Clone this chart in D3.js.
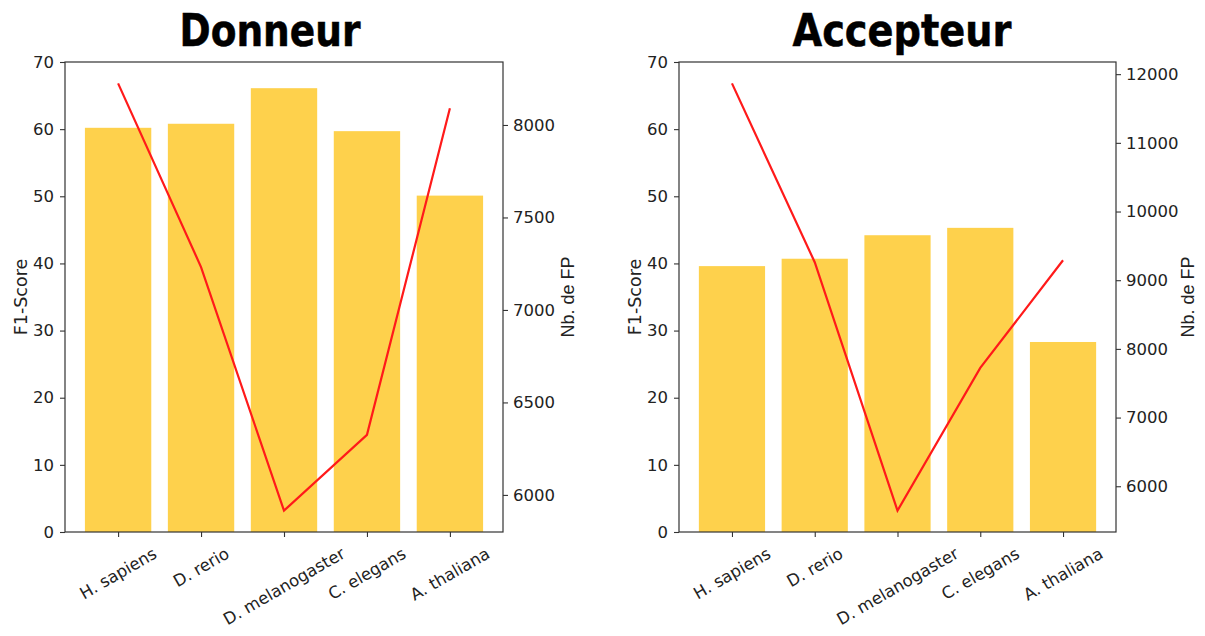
<!DOCTYPE html>
<html>
<head>
<meta charset="utf-8">
<script src="https://cdn.jsdelivr.net/npm/d3@7/dist/d3.min.js"></script>
<style>
  html, body { margin: 0; padding: 0; background: #fff; }
  svg { display: block; }
</style>
</head>
<body>
<svg id="chart" width="1205" height="636"></svg>
<script>
// ---- DATA ----
const species = ["H. sapiens", "D. rerio", "D. melanogaster", "C. elegans", "A. thaliana"];
const titles = ["Donneur", "Accepteur"];
const donneurF1 = [60.2, 60.8, 66.1, 59.7, 50.1];
const donneurFP = [8225, 7232, 5915, 6325, 8090];
const accepteurF1 = [39.6, 40.7, 44.2, 45.3, 28.3];
const accepteurFP = [11866, 9262, 5645, 7723, 9290];
const f1Ticks = [0, 10, 20, 30, 40, 50, 60, 70];
const donneurFPTicks = [6000, 6500, 7000, 7500, 8000];
const accepteurFPTicks = [6000, 7000, 8000, 9000, 10000, 11000, 12000];
const leftLabel = "F1-Score";
const rightLabel = "Nb. de FP";

const svg = d3.select("#chart");
svg.append("rect").attr("width", 1205).attr("height", 636).attr("fill", "#fff");

const panels = [
  { title: titles[0], f1: donneurF1, fp: donneurFP, fpTicks: donneurFPTicks,
    x0: 65, x1: 503, titleX: 270, titleW: 181, leftLabX: 21, rightLabX: 568 },
  { title: titles[1], f1: accepteurF1, fp: accepteurFP, fpTicks: accepteurFPTicks,
    x0: 679, x1: 1116, titleX: 902, titleW: 219, leftLabX: 635, rightLabX: 1188 }
];
const yTop = 62, yBot = 532;
const axisColor = "#333";
const textColor = "#222";
const tickFont = "DejaVu Sans, sans-serif";

panels.forEach(p => {
  const g = svg.append("g");
  const n = species.length;
  // matplotlib-like x limits: bars width 0.8, 5% margins
  const lo = -0.4, hi = n - 1 + 0.4, m = (hi - lo) * 0.05;
  const x = d3.scaleLinear().domain([lo - m, hi + m]).range([p.x0, p.x1]);
  const yL = d3.scaleLinear().domain([0, 70]).range([yBot, yTop]);
  const fmin = d3.min(p.fp), fmax = d3.max(p.fp), r = fmax - fmin;
  const yR = d3.scaleLinear().domain([fmin - 0.05 * r, fmax + 0.05 * r]).range([yBot, yTop]);

  // bars
  g.selectAll("rect.bar").data(p.f1).join("rect")
    .attr("class", "bar")
    .attr("x", (d, i) => x(i - 0.4))
    .attr("width", (d, i) => x(i + 0.4) - x(i - 0.4))
    .attr("y", d => yL(d))
    .attr("height", d => yBot - yL(d))
    .attr("fill", "#FED14C");

  // line
  const line = d3.line().x((d, i) => x(i)).y(d => yR(d));
  g.append("path").datum(p.fp)
    .attr("d", line)
    .attr("fill", "none")
    .attr("stroke", "#FF1A1A")
    .attr("stroke-width", 2.2)
    .attr("stroke-linejoin", "miter");

  // frame (spines)
  g.append("rect")
    .attr("x", p.x0).attr("y", yTop)
    .attr("width", p.x1 - p.x0).attr("height", yBot - yTop)
    .attr("fill", "none").attr("stroke", axisColor).attr("stroke-width", 1.2);

  // left axis
  const axL = d3.axisLeft(yL).tickValues(f1Ticks).tickSize(5).tickPadding(6).tickFormat(d3.format("d"));
  const gL = g.append("g").attr("transform", `translate(${p.x0},0)`).call(axL);
  gL.select(".domain").remove();
  gL.selectAll("line").attr("stroke", axisColor).attr("stroke-width", 1.1);
  gL.selectAll("text").attr("font-family", tickFont).attr("font-size", "16.5px").attr("fill", textColor);

  // right axis
  const axR = d3.axisRight(yR).tickValues(p.fpTicks).tickSize(5).tickPadding(5).tickFormat(d3.format("d"));
  const gR = g.append("g").attr("transform", `translate(${p.x1},0)`).call(axR);
  gR.select(".domain").remove();
  gR.selectAll("line").attr("stroke", axisColor).attr("stroke-width", 1.1);
  gR.selectAll("text").attr("font-family", tickFont).attr("font-size", "16.5px").attr("fill", textColor);

  // bottom axis ticks
  const axB = d3.axisBottom(x).tickValues(d3.range(n)).tickSize(5).tickFormat("");
  const gB = g.append("g").attr("transform", `translate(0,${yBot})`).call(axB);
  gB.select(".domain").remove();
  gB.selectAll("line").attr("stroke", axisColor).attr("stroke-width", 1.1);

  // rotated x labels (bbox centred on tick, like matplotlib rotation=30)
  const ang = 30 * Math.PI / 180;
  const fs = 16.5;
  species.forEach((s, i) => {
    const t = g.append("text")
      .attr("font-family", tickFont)
      .attr("font-size", fs + "px")
      .attr("fill", textColor)
      .attr("text-anchor", "middle")
      .attr("dy", "0.35em")
      .text(s);
    const w = t.node().getComputedTextLength();
    const h = fs * 1.1;
    const H = w * Math.sin(ang) + h * Math.cos(ang);
    const cy = yBot + 12 + H / 2;
    t.attr("transform", `translate(${x(i)},${cy}) rotate(-30)`);
  });

  // axis labels
  g.append("text")
    .attr("transform", `translate(${p.leftLabX},${(yTop + yBot) / 2}) rotate(-90)`)
    .attr("text-anchor", "middle").attr("dy", "0.35em")
    .attr("font-family", tickFont).attr("font-size", "17.5px").attr("fill", textColor)
    .text(leftLabel);
  g.append("text")
    .attr("transform", `translate(${p.rightLabX},${(yTop + yBot) / 2}) rotate(-90)`)
    .attr("text-anchor", "middle").attr("dy", "0.35em")
    .attr("font-family", "Liberation Sans, Arial, sans-serif").attr("font-size", "18px").attr("fill", textColor)
    .text(rightLabel);

  // title
  g.append("text")
    .attr("x", p.titleX).attr("y", 46)
    .attr("text-anchor", "middle")
    .attr("font-family", "'Liberation Sans Narrow', 'DejaVu Sans Condensed', 'Roboto Condensed', sans-serif")
    .attr("font-weight", "bold")
    .attr("font-size", "44px")
    .attr("fill", "#000")
    .attr("stroke", "#000").attr("stroke-width", 0.5)
    .attr("textLength", p.titleW)
    .attr("lengthAdjust", "spacingAndGlyphs")
    .text(p.title);
});
</script>
</body>
</html>
